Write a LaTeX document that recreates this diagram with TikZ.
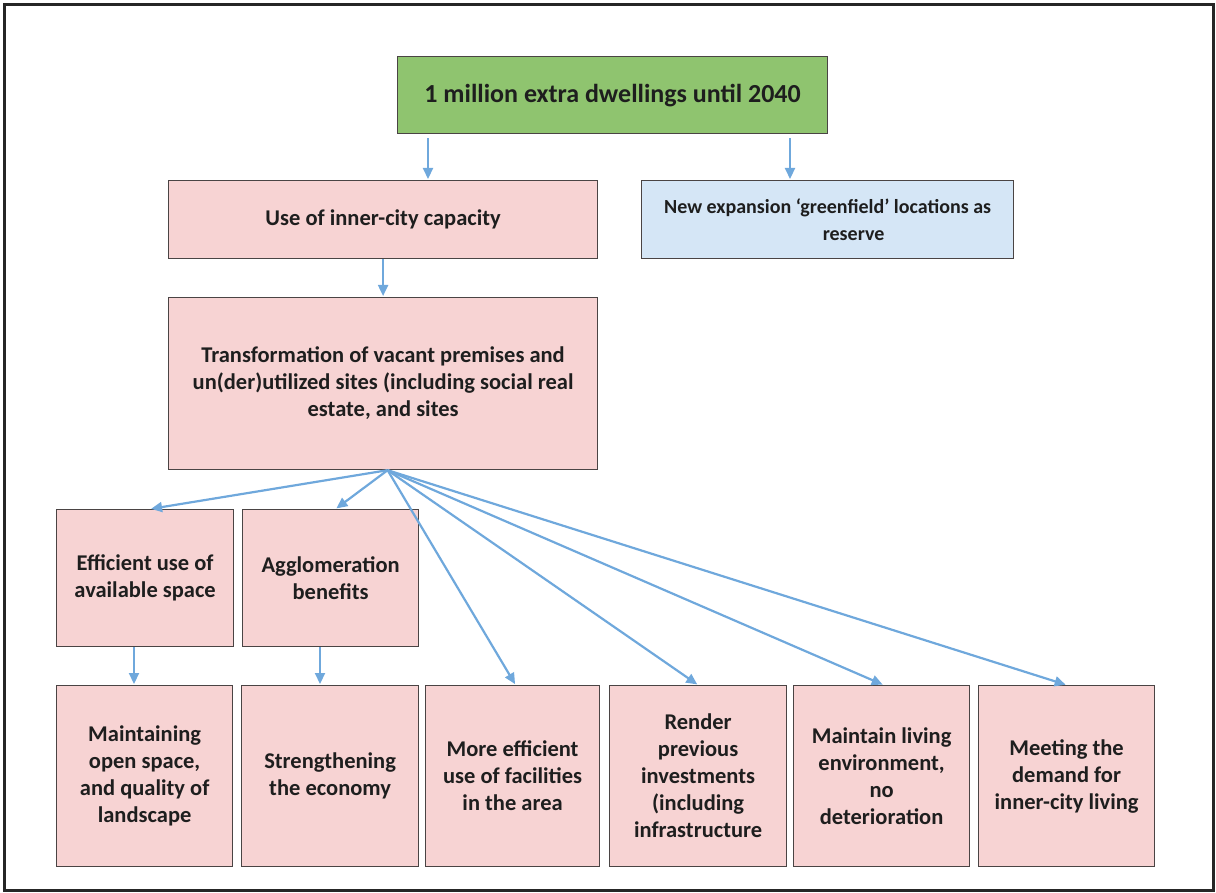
\documentclass[tikz,border=0pt]{standalone}
\usepackage{fontspec}
\setmainfont{Carlito}
\usetikzlibrary{arrows.meta}
\definecolor{boxline}{HTML}{4A4444}
\definecolor{pinkfill}{HTML}{F7D3D3}
\definecolor{bluefill}{HTML}{D5E6F6}
\definecolor{greenfill}{HTML}{8FC46F}
\definecolor{arrowblue}{HTML}{6FA8DC}
\definecolor{textdark}{HTML}{1E1E1E}
\begin{document}
\begin{tikzpicture}[x=1pt,y=-1pt,
  box/.style={draw=boxline, line width=1.2pt, inner sep=0pt, align=center,
    anchor=north west, text=textdark,
    font=\bfseries\fontsize{22.5}{27}\selectfont},
  pinkbox/.style={box, fill=pinkfill},
  arr/.style={draw=arrowblue, line width=2.2pt,
    -{Triangle[length=11pt,width=10pt]}, shorten >=1pt}
]
\useasboundingbox (0,0) rectangle (1216,893);
\draw[line width=3pt, draw=black!85] (4.5,4.5) rectangle (1213.5,890.5);

% top level
\node[box, fill=greenfill, minimum width=430pt, minimum height=77pt,
  font=\bfseries\fontsize{26}{30}\selectfont] (top) at (397,56)
  {1 million extra dwellings until 2040};

% second level
\node[pinkbox, minimum width=429pt, minimum height=78pt] (use) at (168,180)
  {Use of inner-city capacity};
\node[box, fill=bluefill, minimum width=372pt, minimum height=78pt,
  font=\bfseries\fontsize{20}{27}\selectfont] (new) at (641,180)
  {New expansion ‘greenfield’ locations as\\\hspace*{52pt}reserve};

% transformation box
\node[pinkbox, minimum width=429pt, minimum height=172pt] (big) at (168,297)
  {Transformation of vacant premises and\\un(der)utilized sites (including social real\\estate, and sites};

% intermediate benefits
\node[pinkbox, minimum width=177pt, minimum height=137pt] (eff) at (56,509)
  {Efficient use of\\available space};
\node[pinkbox, minimum width=176pt, minimum height=137pt] (agg) at (242,509)
  {Agglomeration\\benefits};

% bottom row
\node[pinkbox, minimum width=176pt, minimum height=181pt] (m1) at (56,685)
  {Maintaining\\open space,\\and quality of\\landscape};
\node[pinkbox, minimum width=177pt, minimum height=181pt] (m2) at (241,685)
  {Strengthening\\the economy};
\node[pinkbox, minimum width=174pt, minimum height=181pt] (m3) at (425,685)
  {More efficient\\use of facilities\\in the area};
\node[pinkbox, minimum width=177pt, minimum height=181pt] (m4) at (609,685)
  {Render\\previous\\investments\\(including\\infrastructure};
\node[pinkbox, minimum width=176pt, minimum height=181pt] (m5) at (793,685)
  {Maintain living\\environment,\\no\\deterioration};
\node[pinkbox, minimum width=176pt, minimum height=181pt] (m6) at (978,685)
  {Meeting the\\demand for\\inner-city living};

% connectors
\draw[arr, shorten <=4pt] ([xshift=31pt]top.south west) -- ([xshift=260pt]use.north west);
\draw[arr, shorten <=4pt] ([xshift=393pt]top.south west) -- ([xshift=149pt]new.north west);
\draw[arr] (use.south) -- (big.north);

\coordinate (fan) at ([xshift=4.5pt]big.south);
\draw[arr] (fan) -- ([xshift=5pt]eff.north);
\draw[arr] (fan) -- ([xshift=5pt]agg.north);
\draw[arr] (fan) -- ([xshift=3pt]m3.north);
\draw[arr] (fan) -- (m4.north);
\draw[arr] (fan) -- ([xshift=2pt]m5.north);
\draw[arr] (fan) -- (m6.north);

\draw[arr] ([xshift=78pt]eff.south west) -- ([xshift=78pt]eff.south west |- m1.north);
\draw[arr] ([xshift=78pt]agg.south west) -- ([xshift=78pt]agg.south west |- m2.north);
\end{tikzpicture}
\end{document}
